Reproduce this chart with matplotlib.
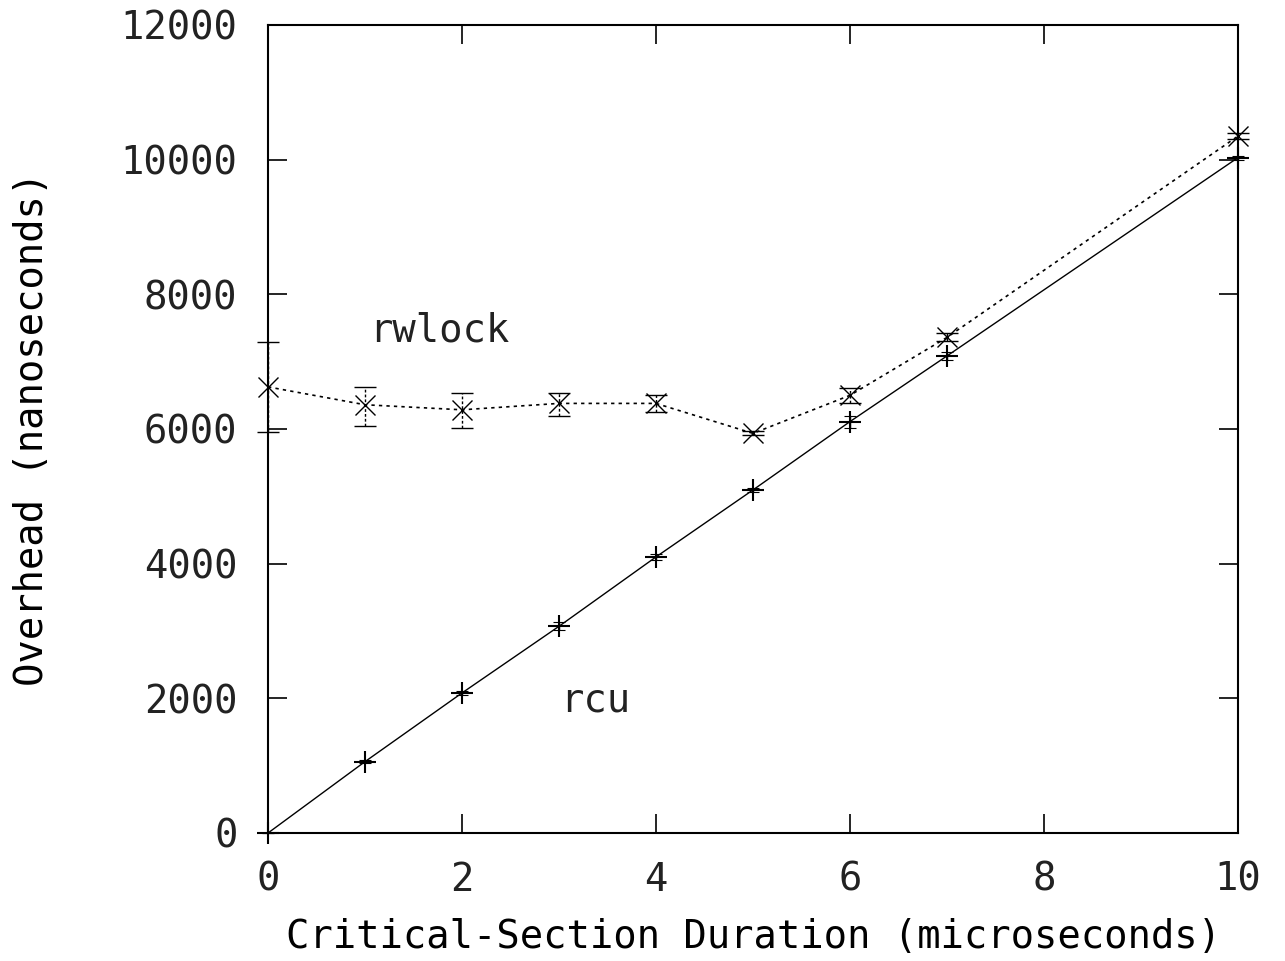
import numpy as np
import matplotlib
matplotlib.use("Agg")
import matplotlib.pyplot as plt

# data
duration = [0, 1, 2, 3, 4, 5, 6, 7, 10]
rwlock = [6625, 6360, 6285, 6380, 6380, 5935, 6500, 7360, 10350]
rwlock_lo = [5955, 6045, 6015, 6190, 6255, 5905, 6390, 7300, 10300]
rwlock_hi = [7290, 6630, 6540, 6540, 6505, 5965, 6610, 7420, 10400]
rcu = [0, 1060, 2080, 3070, 4100, 5095, 6110, 7085, 10030]
rcu_err = [0, 20, 30, 60, 40, 30, 90, 60, 30]

plt.rcParams['font.family'] = ['DejaVu Sans Mono']
plt.rcParams['text.color'] = '#222222'
fs = 28

fig = plt.figure(figsize=(12.85, 9.61), dpi=100)
ax = fig.add_axes([0.2086, 0.1332, 0.7548, 0.8408])

yerr = [np.array(rwlock) - np.array(rwlock_lo), np.array(rwlock_hi) - np.array(rwlock)]
eb = ax.errorbar(duration, rwlock, yerr=yerr, color='black', linestyle=(0, (2, 2.5)), linewidth=1.2,
                 marker='x', markersize=15, markeredgewidth=1.0, capsize=8, elinewidth=1.0,
                 ecolor='black', clip_on=False, zorder=3)
eb[2][0].set_linestyle((0, (2, 1.5)))
eb2 = ax.errorbar(duration, rcu, yerr=rcu_err, color='black', linestyle='-', linewidth=1.0,
                  marker='+', markersize=16, markeredgewidth=1.5, capsize=4, elinewidth=1.0,
                  ecolor='black', clip_on=False, zorder=3)
for cap in eb2[1]:
    cap.set_markeredgewidth(0.8)

ax.text(1.77, 7470, 'rwlock', ha='center', va='center', fontsize=fs)
ax.text(3.37, 1975, 'rcu', ha='center', va='center', fontsize=fs)

ax.set_xlim(0, 10)
ax.set_ylim(0, 12000)
ax.set_xticks([0, 2, 4, 6, 8, 10])
ax.set_yticks(range(0, 12001, 2000))
ax.tick_params(direction='in', length=14, width=1.2, top=True, right=True, pad=20,
               labelsize=fs, labelcolor='#222222')
ax.tick_params(axis='y', pad=22)
for s in ax.spines.values():
    s.set_linewidth(1.5)

ax.set_xlabel('Critical-Section Duration (microseconds)', fontsize=fs, labelpad=14)
ax.set_ylabel('Overhead (nanoseconds)', fontsize=fs, labelpad=50)

fig.savefig('out.png', dpi=100)
